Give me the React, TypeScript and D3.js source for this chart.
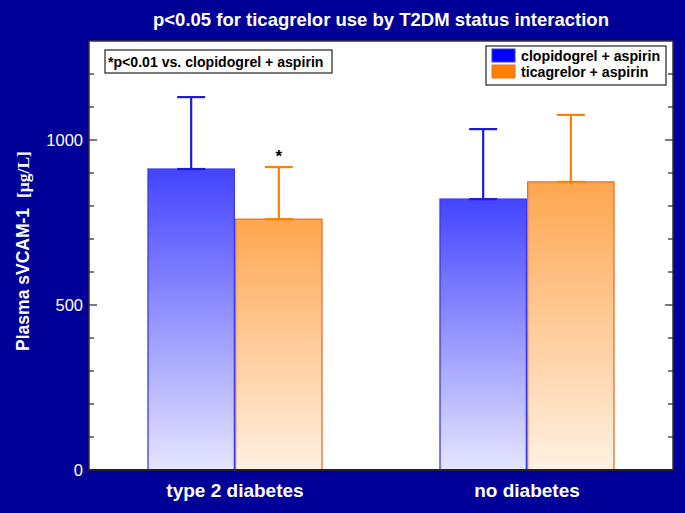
// Plasma sVCAM-1 by diabetes status and antiplatelet regimen
import React, { useEffect, useRef } from 'react';
import * as d3 from 'd3';

const groups = ['type 2 diabetes', 'no diabetes'];
const series = ['clopidogrel + aspirin', 'ticagrelor + aspirin'];
// mean values per group, in series order
const meanValues = [
  [912, 760],
  [821, 873],
];
// upper error bar ends
const upperValues = [
  [1130, 918],
  [1033, 1076],
];
const yTicksMajor = [0, 500, 1000];
const yTicksMinor = [100, 200, 300, 400, 600, 700, 800, 900, 1100, 1200];

const App: React.FC = () => {
  const ref = useRef<SVGSVGElement>(null);

  useEffect(() => {
    if (!ref.current) return;
    const svg = d3.select(ref.current);
    svg.selectAll('*').remove();

    const width = 685;
    const height = 513;
    const margin = { top: 41, right: 12, bottom: 43, left: 89 };
    const plotW = width - margin.left - margin.right;
    const plotH = height - margin.top - margin.bottom;
    const font = '"Liberation Sans", Arial, sans-serif';

    svg.attr('width', width).attr('height', height);
    svg.append('rect').attr('width', width).attr('height', height).attr('fill', '#000099');

    const defs = svg.append('defs');
    const grads = [
      { id: 'gBlue', top: '#4444ff', bottom: '#e6e6ff' },
      { id: 'gOrange', top: '#ffa650', bottom: '#fff1e3' },
    ];
    grads.forEach(gr => {
      const lg = defs.append('linearGradient').attr('id', gr.id)
        .attr('x1', 0).attr('y1', 0).attr('x2', 0).attr('y2', 1);
      lg.append('stop').attr('offset', '0%').attr('stop-color', gr.top);
      lg.append('stop').attr('offset', '100%').attr('stop-color', gr.bottom);
    });
    const fills = ['url(#gBlue)', 'url(#gOrange)'];
    const strokes = ['#3a3aee', '#e8702a'];
    const errColors = ['#1c1cd4', '#ff7f00'];
    const swatchFill = ['#0000ff', '#ff8000'];

    const g = svg.append('g').attr('transform', `translate(${margin.left},${margin.top})`);
    g.append('rect').attr('width', plotW).attr('height', plotH).attr('fill', '#ffffff');

    const y = d3.scaleLinear().domain([0, 1300]).range([plotH, 0]);
    const x0 = d3.scaleBand().domain(groups).range([0, plotW]).padding(0);
    const half = 87;
    const x1 = d3.scaleBand().domain(series)
      .range([x0.bandwidth() / 2 - half, x0.bandwidth() / 2 + half])
      .paddingInner(0.015);

    // bars
    groups.forEach((grp, gi) => {
      const gg = g.append('g').attr('transform', `translate(${x0(grp)},0)`);
      series.forEach((s, si) => {
        const v = meanValues[gi][si];
        const bx = x1(s)!;
        const bw = x1.bandwidth();
        gg.append('rect')
          .attr('x', bx).attr('y', y(v))
          .attr('width', bw).attr('height', y(0) - y(v))
          .attr('fill', fills[si])
          .attr('stroke', strokes[si]).attr('stroke-width', 1.3);
        // error bar
        const cx = bx + bw / 2;
        const cap = 14;
        const up = upperValues[gi][si];
        gg.append('line').attr('x1', cx).attr('x2', cx).attr('y1', y(v)).attr('y2', y(up))
          .attr('stroke', errColors[si]).attr('stroke-width', 2.2);
        gg.append('line').attr('x1', cx - cap).attr('x2', cx + cap).attr('y1', y(up)).attr('y2', y(up))
          .attr('stroke', errColors[si]).attr('stroke-width', 2.2);
        gg.append('line').attr('x1', cx - cap).attr('x2', cx + cap).attr('y1', y(v)).attr('y2', y(v))
          .attr('stroke', errColors[si]).attr('stroke-width', 2.2);
        if (gi === 0 && si === 1) {
          gg.append('text').attr('x', cx).attr('y', y(up) - 5)
            .attr('text-anchor', 'middle')
            .style('font-family', font).style('font-size', '17px').style('font-weight', 'bold')
            .attr('fill', '#000').text('*');
        }
      });
    });

    // ticks inward on left and right
    const tickColor = '#333';
    yTicksMajor.concat(yTicksMinor).forEach(t => {
      const len = yTicksMajor.includes(t) ? 8 : 5;
      g.append('line').attr('x1', 0).attr('x2', len).attr('y1', y(t)).attr('y2', y(t))
        .attr('stroke', tickColor).attr('stroke-width', 1.3);
      g.append('line').attr('x1', plotW).attr('x2', plotW - len).attr('y1', y(t)).attr('y2', y(t))
        .attr('stroke', tickColor).attr('stroke-width', 1.3);
    });
    yTicksMajor.forEach(t => {
      g.append('text').attr('x', -6).attr('y', y(t)).attr('dy', '0.36em')
        .attr('text-anchor', 'end').attr('fill', '#fff')
        .style('font-family', font).style('font-size', '16.5px')
        .text(t);
    });

    // frame
    g.append('rect').attr('width', plotW).attr('height', plotH)
      .attr('fill', 'none').attr('stroke', '#333').attr('stroke-width', 1.5);
    g.append('line').attr('x1', 0).attr('x2', plotW).attr('y1', plotH).attr('y2', plotH)
      .attr('stroke', '#222').attr('stroke-width', 2.2);

    // category labels
    groups.forEach(grp => {
      g.append('text').attr('x', x0(grp)! + x0.bandwidth() / 2).attr('y', plotH + 27)
        .attr('text-anchor', 'middle').attr('fill', '#fff')
        .style('font-family', font).style('font-size', '19px').style('font-weight', 'bold')
        .text(grp);
    });

    // y label
    const yl = svg.append('text')
      .attr('transform', `translate(29,${margin.top + 210}) rotate(-90)`)
      .attr('text-anchor', 'middle').attr('fill', '#fff')
      .style('font-family', font).style('font-size', '17.5px').style('font-weight', 'bold');
    yl.append('tspan').text('Plasma sVCAM-1');
    yl.append('tspan').attr('dx', 10)
      .style('font-family', '"Liberation Serif", "Times New Roman", serif')
      .text('[μg/L]');

    // title
    svg.append('text').attr('x', 381).attr('y', 26)
      .attr('text-anchor', 'middle').attr('fill', '#fff')
      .style('font-family', font).style('font-size', '18.5px').style('font-weight', 'bold')
      .text('p<0.05 for ticagrelor use by T2DM status interaction');

    // annotation box
    svg.append('rect').attr('x', 105).attr('y', 50).attr('width', 227).attr('height', 23)
      .attr('fill', '#fff').attr('stroke', '#222').attr('stroke-width', 1.2);
    svg.append('text').attr('x', 108).attr('y', 66.5)
      .attr('fill', '#000')
      .style('font-family', font).style('font-size', '14.1px').style('font-weight', 'bold')
      .text('*p<0.01 vs. clopidogrel + aspirin');

    // legend
    svg.append('rect').attr('x', 486).attr('y', 46).attr('width', 180).attr('height', 39)
      .attr('fill', '#fff').attr('stroke', '#222').attr('stroke-width', 1.2);
    series.forEach((s, i) => {
      svg.append('rect').attr('x', 492).attr('y', 49 + i * 16).attr('width', 23).attr('height', 13)
        .attr('fill', swatchFill[i]).attr('stroke', strokes[i]).attr('stroke-width', 1);
      svg.append('text').attr('x', 521).attr('y', 60.5 + i * 16)
        .attr('fill', '#000')
        .style('font-family', font).style('font-size', '14.2px').style('font-weight', 'bold')
        .text(s);
    });
  }, []);

  return (
    <div style={{ position: 'absolute', left: 0, top: 0 }}>
      <svg ref={ref} style={{ display: 'block' }}></svg>
    </div>
  );
};

export default App;
